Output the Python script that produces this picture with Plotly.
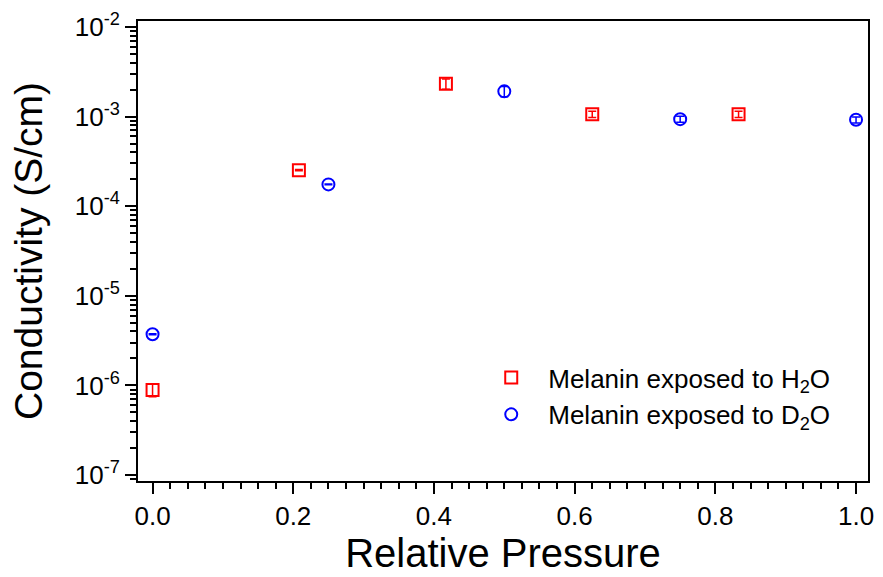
import plotly.graph_objects as go

# Relative pressure and conductivity (S/cm) for each exposure
p_h2o = [0.0, 0.208, 0.417, 0.625, 0.833]
sigma_h2o = [8.9e-7, 2.52e-4, 2.32e-3, 1.06e-3, 1.06e-3]
err_h2o = [1.4e-7, 4e-6, 3.0e-4, 8.5e-5, 8.5e-5]

p_d2o = [0.0, 0.25, 0.5, 0.75, 1.0]
sigma_d2o = [3.72e-6, 1.75e-4, 1.91e-3, 9.35e-4, 9.2e-4]
err_d2o = [5e-8, 2e-6, 2.5e-4, 7e-5, 7e-5]

y_exponents = [-7, -6, -5, -4, -3, -2]
y_tick_text = ["10<sup>%d</sup>" % e for e in y_exponents]
x_ticks = [0.0, 0.2, 0.4, 0.6, 0.8, 1.0]

FONT = "Liberation Sans, Arial, sans-serif"

fig = go.Figure()
fig.add_trace(go.Scatter(
    x=p_h2o, y=sigma_h2o, mode="markers",
    name="Melanin exposed to H<sub>2</sub>O",
    marker=dict(symbol="square-open", size=12, color="#ff0000",
                line=dict(width=2, color="#ff0000")),
    error_y=dict(type="data", array=err_h2o, visible=True,
                 color="#ff0000", thickness=1.5, width=4),
))
fig.add_trace(go.Scatter(
    x=p_d2o, y=sigma_d2o, mode="markers",
    name="Melanin exposed to D<sub>2</sub>O",
    marker=dict(symbol="circle-open", size=12, color="#0000ff",
                line=dict(width=2, color="#0000ff")),
    error_y=dict(type="data", array=err_d2o, visible=True,
                 color="#0000ff", thickness=1.5, width=4),
))

minor_y = [m * 10.0 ** e for e in range(-8, -1) for m in range(2, 10)]

fig.update_layout(
    width=883, height=577,
    margin=dict(l=138, r=9, t=21, b=92),
    paper_bgcolor="white", plot_bgcolor="white",
    font=dict(family=FONT, color="black"),
    showlegend=True,
    legend=dict(x=0.4606, y=0.1845, xanchor="left", yanchor="middle",
                bgcolor="rgba(0,0,0,0)", itemwidth=64,
                font=dict(size=26, family=FONT)),
    xaxis=dict(
        range=[-0.0207, 1.017], tickvals=x_ticks,
        ticktext=["%.1f" % v for v in x_ticks],
        showgrid=False, zeroline=False,
        showline=True, linecolor="black", linewidth=2, mirror=True,
        ticks="outside", ticklen=11, tickwidth=2, tickcolor="black",
        minor=dict(dtick=0.025, ticks="outside", ticklen=6, tickwidth=1.5,
                   tickcolor="black", showgrid=False),
        tickfont=dict(size=26, family="Liberation Sans Narrow, Arial Narrow, sans-serif"),
        title=dict(text="Relative Pressure", font=dict(size=40), standoff=9),
    ),
    yaxis=dict(
        type="log", range=[-7.066, -1.934],
        tickvals=[10.0 ** e for e in y_exponents], ticktext=y_tick_text,
        showgrid=False, zeroline=False,
        showline=True, linecolor="black", linewidth=2, mirror=True,
        ticks="outside", ticklen=11, tickwidth=2, tickcolor="black",
        minor=dict(tickvals=minor_y, ticks="outside", ticklen=6, tickwidth=1.5,
                   tickcolor="black", showgrid=False),
        tickfont=dict(size=26),
        title=dict(text="Conductivity (S/cm)", font=dict(size=39), standoff=20),
    ),
)

fig.write_html("out.html")
